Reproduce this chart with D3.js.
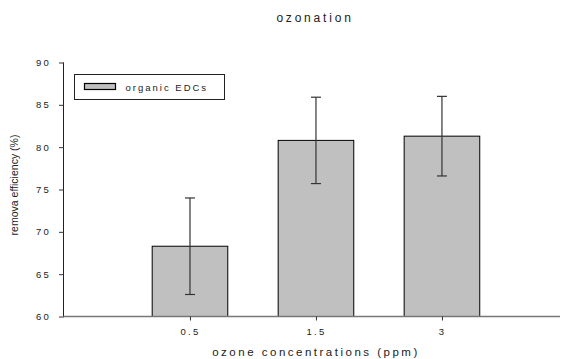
<!DOCTYPE html>
<html>
<head>
<meta charset="utf-8">
<script src="https://cdn.jsdelivr.net/npm/d3@7"></script>
<style>
  body { margin: 0; background: #fff; }
  text { font-family: Arial, "Liberation Sans", sans-serif; fill: #222; }
</style>
</head>
<body>
<div id="chart"></div>
<script>
// Data
const categories = ['0.5', '1.5', '3'];
const means = [68.3, 80.8, 81.3];
const errLow = [62.6, 75.7, 76.6];
const errHigh = [74.0, 85.9, 86.0];
const yTicks = [60, 65, 70, 75, 80, 85, 90];

const width = 562;
const height = 359;
const plot = { left: 64, right: 560, top: 62.5, bottom: 316.5 };

const svg = d3.select('#chart')
    .append('svg')
    .attr('width', width)
    .attr('height', height);

// category index -> x, the empty slot on the left is index -1
const xScale = d3.scaleLinear()
    .domain([-1, 2.937])
    .range([plot.left, plot.right]);

const yScale = d3.scaleLinear()
    .domain([60, 90])
    .range([plot.bottom, plot.top]);

const step = xScale(1) - xScale(0);
const barW = step * 0.6;

// Bars
svg.selectAll('.bar')
    .data(means)
    .enter()
    .append('rect')
    .attr('class', 'bar')
    .attr('x', (d, i) => xScale(i) - barW / 2)
    .attr('y', (d) => yScale(d))
    .attr('width', barW)
    .attr('height', (d) => yScale(60) - yScale(d))
    .attr('fill', '#c0c0c0')
    .attr('stroke', '#000')
    .attr('stroke-width', 1);

// Error bars
const err = svg.selectAll('.err')
    .data(categories)
    .enter()
    .append('g')
    .attr('class', 'err')
    .attr('stroke', '#333')
    .attr('stroke-width', 1.2);

err.append('line')
    .attr('x1', (d, i) => xScale(i))
    .attr('x2', (d, i) => xScale(i))
    .attr('y1', (d, i) => yScale(errLow[i]))
    .attr('y2', (d, i) => yScale(errHigh[i]));

err.append('line')
    .attr('x1', (d, i) => xScale(i) - 5)
    .attr('x2', (d, i) => xScale(i) + 5)
    .attr('y1', (d, i) => yScale(errHigh[i]))
    .attr('y2', (d, i) => yScale(errHigh[i]));

err.append('line')
    .attr('x1', (d, i) => xScale(i) - 5)
    .attr('x2', (d, i) => xScale(i) + 5)
    .attr('y1', (d, i) => yScale(errLow[i]))
    .attr('y2', (d, i) => yScale(errLow[i]));

// Y axis
const yAxis = d3.axisLeft(yScale)
    .tickValues(yTicks)
    .tickSize(5)
    .tickPadding(8)
    .tickFormat(d3.format('d'));

const yg = svg.append('g')
    .attr('transform', 'translate(' + plot.left + ',0)')
    .call(yAxis);
yg.select('.domain').attr('stroke', '#222').attr('d', 'M-0.5,' + plot.top + 'V' + plot.bottom);
yg.selectAll('.tick line').attr('stroke', '#333');
yg.selectAll('.tick text')
    .attr('font-size', 9.5)
    .attr('letter-spacing', 2.2)
    .attr('fill', '#222');

// X axis
const xAxis = d3.axisBottom(xScale)
    .tickValues([0, 1, 2])
    .tickSize(4)
    .tickPadding(8)
    .tickFormat((d) => categories[d]);

const xg = svg.append('g')
    .attr('transform', 'translate(0,' + plot.bottom + ')')
    .call(xAxis);
xg.select('.domain').attr('stroke', '#777').attr('stroke-width', 1.5)
    .attr('d', 'M' + plot.left + ',0H' + plot.right);
xg.selectAll('.tick line').attr('stroke', '#333');
xg.selectAll('.tick text')
    .attr('font-size', 9.5)
    .attr('letter-spacing', 2.2)
    .attr('fill', '#222');

// Titles
svg.append('text')
    .attr('x', 315)
    .attr('y', 22)
    .attr('text-anchor', 'middle')
    .attr('font-size', 12)
    .attr('letter-spacing', 2.8)
    .text('ozonation');

svg.append('text')
    .attr('x', 316)
    .attr('y', 356)
    .attr('text-anchor', 'middle')
    .attr('font-size', 11.5)
    .attr('letter-spacing', 2.5)
    .text('ozone concentrations (ppm)');

svg.append('text')
    .attr('transform', 'translate(18,' + 185 + ') rotate(-90)')
    .attr('text-anchor', 'middle')
    .attr('font-size', 10.5)
    .text('remova efficiency (%)');

// Legend
const legend = svg.append('g').attr('transform', 'translate(74.5,74.5)');
legend.append('rect')
    .attr('width', 150)
    .attr('height', 25)
    .attr('fill', '#fff')
    .attr('stroke', '#222')
    .attr('stroke-width', 1);
legend.append('rect')
    .attr('x', 10)
    .attr('y', 9)
    .attr('width', 31)
    .attr('height', 6)
    .attr('fill', '#c0c0c0')
    .attr('stroke', '#000')
    .attr('stroke-width', 1.2);
legend.append('text')
    .attr('x', 51)
    .attr('y', 16)
    .attr('font-size', 9.5)
    .attr('letter-spacing', 2)
    .text('organic EDCs');
</script>
</body>
</html>
